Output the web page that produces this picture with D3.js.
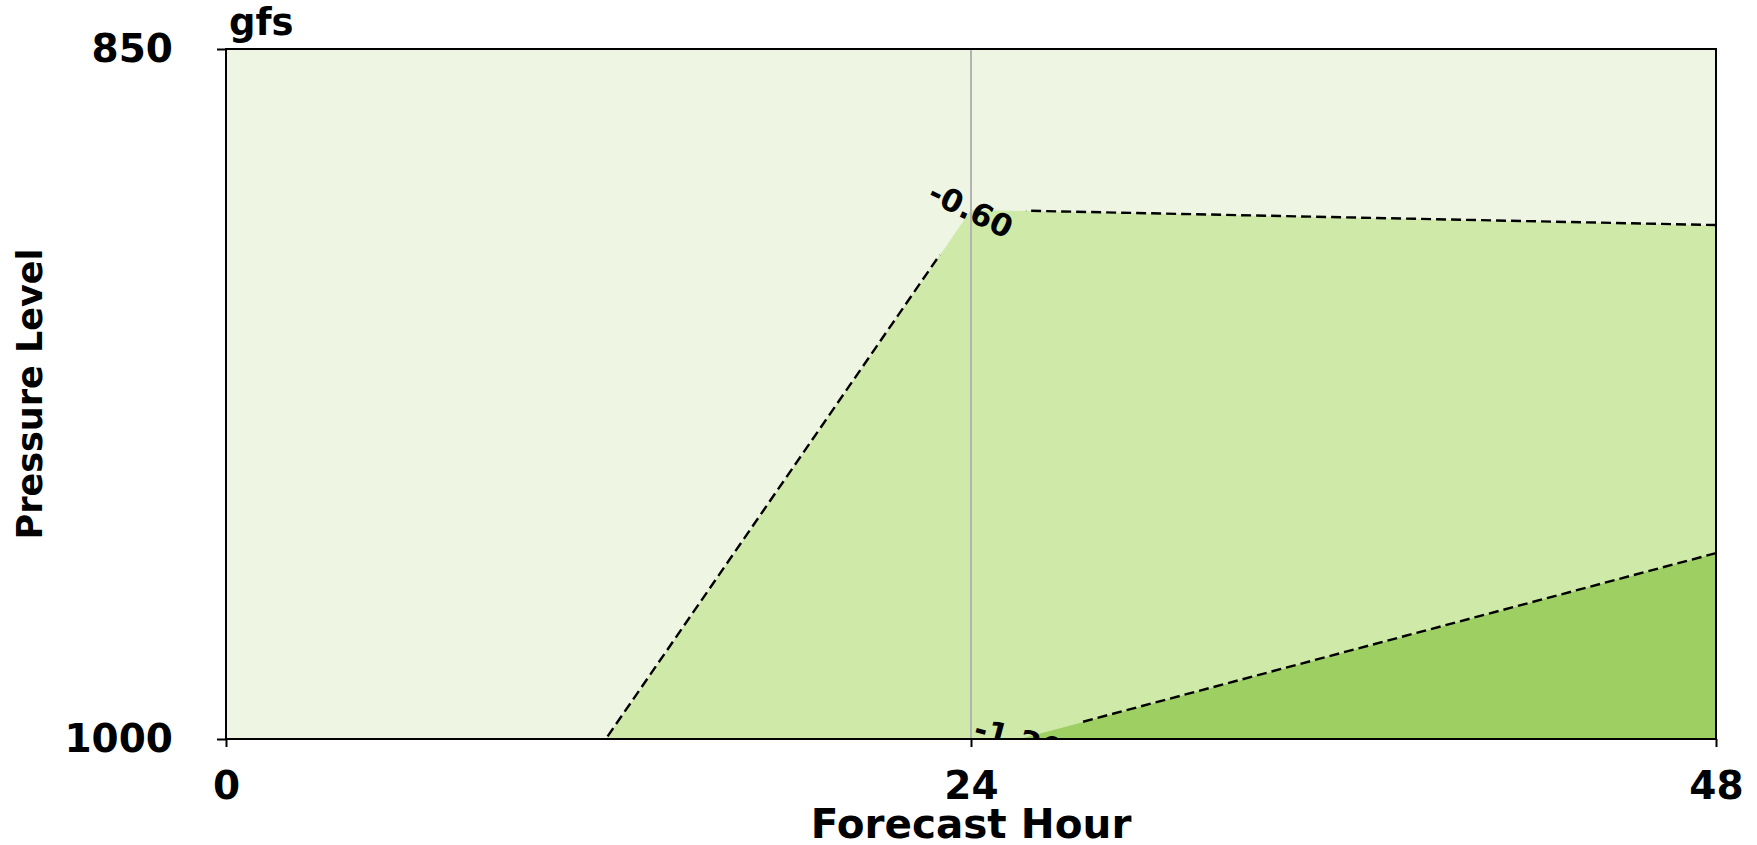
<!DOCTYPE html>
<html>
<head>
<meta charset="utf-8">
<script src="https://cdn.jsdelivr.net/npm/d3@7"></script>
<style>
  body { margin: 0; background: #fff; }
  text { font-family: "DejaVu Sans", sans-serif; font-weight: bold; fill: #000; }
</style>
</head>
<body>
<svg id="chart"></svg>
<script>
// grid of the field: forecast hours x pressure levels
const hours = [0, 24, 48];
const levels = [850, 1000];
const values850 = [-0.15, -0.425, -0.278];
const values1000 = [0.0, -1.177, -1.540];

const contourLevels = [-1.8, -1.2, -0.6, 0.0];
const bandColors = ['#9dcf63', '#cfe9a9', '#eef5e3'];
const lineLevels = [-1.2, -0.6];
const contourLabels = [
    { level: -0.6, text: '-0.60', along: 'hour', at: 24, angle: 26, gap: 55 },
    { level: -1.2, text: '-1.20', along: 'level', at: 1000, angle: 15, gap: 66 }
];
const xTicks = [0, 24, 48];
const yTicks = [850, 1000];
const markHour = 24;

const width = 1757, height = 845;
const margin = { top: 49, right: 41, bottom: 106, left: 226 };
const inner_width = width - margin.left - margin.right;
const inner_height = height - margin.top - margin.bottom;

const svg = d3.select('#chart')
    .attr('width', width)
    .attr('height', height);

const xscale = d3.scaleLinear()
    .domain([0, 48])
    .range([0, inner_width]);

const yscale = d3.scaleLinear()
    .domain([850, 1000])
    .range([0, inner_height]);

const chart = svg.append('g')
    .attr('transform', `translate(${margin.left}, ${margin.top})`);

const defs = svg.append('defs');
defs.append('clipPath').attr('id', 'plot-clip')
    .append('rect')
    .attr('width', inner_width)
    .attr('height', inner_height);

// grid nodes and cells
const node = (i, j) => ({ h: hours[i], p: levels[j], v: j === 0 ? values850[i] : values1000[i] });
const cells = [];
for (let i = 0; i < hours.length - 1; i++) {
    cells.push([node(i, 0), node(i + 1, 0), node(i + 1, 1), node(i, 1)]);
}

const lerp = (a, b, t) => ({
    h: a.h + (b.h - a.h) * t,
    p: a.p + (b.p - a.p) * t,
    v: a.v + (b.v - a.v) * t
});

// keep the part of a polygon where f(v) >= 0
function clip(poly, f) {
    const out = [];
    for (let k = 0; k < poly.length; k++) {
        const cur = poly[k], prev = poly[(k - 1 + poly.length) % poly.length];
        const dc = f(cur.v), dp = f(prev.v);
        if (dc >= 0) {
            if (dp < 0) out.push(lerp(prev, cur, dp / (dp - dc)));
            out.push(cur);
        } else if (dp >= 0) {
            out.push(lerp(prev, cur, dp / (dp - dc)));
        }
    }
    return out;
}

const toPath = pts => 'M' + pts.map(d => `${xscale(d.h)},${yscale(d.p)}`).join('L') + 'Z';

// filled bands
const bands = chart.append('g').attr('clip-path', 'url(#plot-clip)');
for (let b = 0; b < contourLevels.length - 1; b++) {
    const lo = contourLevels[b], hi = contourLevels[b + 1];
    cells.forEach(cell => {
        const poly = clip(clip(cell, v => v - lo), v => hi - v);
        if (poly.length < 3) return;
        bands.append('path')
            .attr('d', toPath(poly))
            .attr('fill', bandColors[b])
            .attr('stroke', bandColors[b])
            .attr('stroke-width', 0.6);
    });
}

// marker line at 24 h
chart.append('line')
    .attr('x1', xscale(markHour)).attr('x2', xscale(markHour))
    .attr('y1', 0).attr('y2', inner_height)
    .attr('stroke', '#b3b3b3')
    .attr('stroke-width', 2);

// crossing points of a level on cell edges
function crossings(cell, L) {
    const pts = [];
    for (let k = 0; k < cell.length; k++) {
        const a = cell[k], b = cell[(k + 1) % cell.length];
        if ((a.v - L) * (b.v - L) < 0) pts.push(lerp(a, b, (L - a.v) / (b.v - a.v)));
    }
    return pts;
}

// label anchors
const anchors = contourLabels.map(lab => {
    let found = null;
    cells.forEach(cell => {
        crossings(cell, lab.level).forEach(pt => {
            const hit = lab.along === 'hour' ? Math.abs(pt.h - lab.at) < 1e-9 : Math.abs(pt.p - lab.at) < 1e-9;
            if (hit) found = pt;
        });
    });
    return Object.assign({}, lab, { x: xscale(found.h), y: yscale(found.p) });
});

const mask = defs.append('mask').attr('id', 'label-gaps')
    .attr('maskUnits', 'userSpaceOnUse')
    .attr('x', -margin.left).attr('y', -margin.top)
    .attr('width', width).attr('height', height);
mask.append('rect')
    .attr('x', -margin.left).attr('y', -margin.top)
    .attr('width', width).attr('height', height)
    .attr('fill', '#fff');
mask.selectAll('circle')
    .data(anchors)
    .join('circle')
    .attr('cx', d => d.x)
    .attr('cy', d => d.y)
    .attr('r', d => d.gap)
    .attr('fill', '#000');

// dashed contour lines
const lines = chart.append('g')
    .attr('mask', 'url(#label-gaps)')
    .attr('clip-path', 'url(#plot-clip)');
lineLevels.forEach(L => {
    cells.forEach(cell => {
        const pts = crossings(cell, L);
        if (pts.length !== 2) return;
        lines.append('line')
            .attr('x1', xscale(pts[0].h)).attr('y1', yscale(pts[0].p))
            .attr('x2', xscale(pts[1].h)).attr('y2', yscale(pts[1].p))
            .attr('stroke', '#000')
            .attr('stroke-width', 2.4)
            .attr('stroke-dasharray', '10,5');
    });
});

// contour labels
chart.append('g')
    .attr('clip-path', 'url(#plot-clip)')
    .selectAll('text')
    .data(anchors)
    .join('text')
    .attr('transform', d => `translate(${d.x}, ${d.y}) rotate(${d.angle})`)
    .attr('text-anchor', 'middle')
    .attr('dy', '0.36em')
    .style('font-size', '31px')
    .text(d => d.text);

// frame
chart.append('rect')
    .attr('width', inner_width)
    .attr('height', inner_height)
    .attr('fill', 'none')
    .attr('stroke', '#000')
    .attr('stroke-width', 2);

// axes
const xaxis = d3.axisBottom(xscale)
    .tickValues(xTicks)
    .tickFormat(d3.format('d'))
    .tickSize(8)
    .tickPadding(24)
    .tickSizeOuter(0);
const yaxis = d3.axisLeft(yscale)
    .tickValues(yTicks)
    .tickFormat(d3.format('d'))
    .tickSize(9)
    .tickPadding(44)
    .tickSizeOuter(0);

const xaxis_group = chart.append('g')
    .attr('transform', `translate(0, ${inner_height})`)
    .call(xaxis);
const yaxis_group = chart.append('g')
    .call(yaxis);

[xaxis_group, yaxis_group].forEach(g => {
    g.select('.domain').remove();
    g.selectAll('.tick line').attr('stroke', '#000').attr('stroke-width', 2);
    g.selectAll('.tick text')
        .attr('fill', '#000')
        .style('font-family', '"DejaVu Sans", sans-serif')
        .style('font-weight', 'bold')
        .style('font-size', '39px');
});

// titles
svg.append('text')
    .attr('x', margin.left + 3)
    .attr('y', 35)
    .style('font-size', '37px')
    .text('gfs');

svg.append('text')
    .attr('x', margin.left + inner_width / 2)
    .attr('y', 838)
    .attr('text-anchor', 'middle')
    .style('font-size', '40.5px')
    .text('Forecast Hour');

svg.append('text')
    .attr('transform', `translate(42, ${margin.top + inner_height / 2}) rotate(-90)`)
    .attr('text-anchor', 'middle')
    .style('font-size', '35px')
    .text('Pressure Level');
</script>
</body>
</html>
